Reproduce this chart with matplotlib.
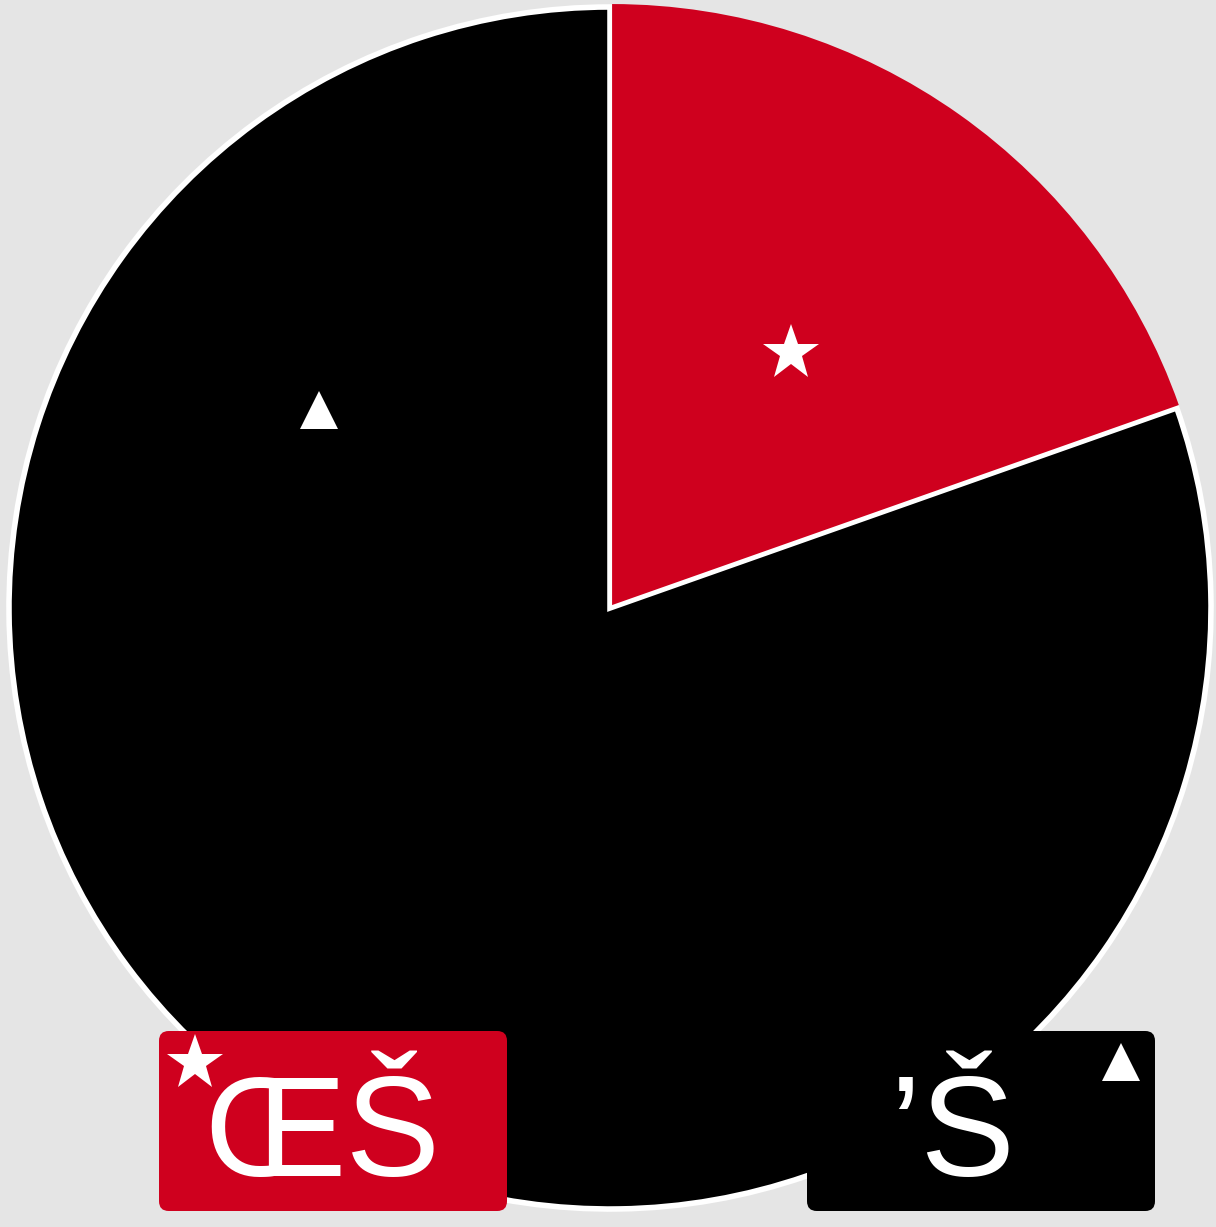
import numpy as np
import matplotlib
matplotlib.use('Agg')
import matplotlib.pyplot as plt
from matplotlib.patches import FancyBboxPatch

labels = ['ŒŠ', '’Š']
values = [19.6, 80.4]
colors = ['#CF001E', '#000000']
markers = ['*', '^']

W, H = 1216, 1227
fig = plt.figure(figsize=(W / 100, H / 100), dpi=100)
fig.patch.set_facecolor('#E5E5E5')

ax = fig.add_axes([0, 0, 1, 1])
ax.set_facecolor('#E5E5E5')
cx, cy, r = 610, 608, 601

wedges, _ = ax.pie(values, colors=colors, startangle=90, counterclock=False,
                   explode=[0.006, 0], radius=1,
                   wedgeprops=dict(edgecolor='white', linewidth=4))
wedges[0].set_edgecolor('none')
wedges[0].set_zorder(3)

# pie() forces equal aspect; put the limits back so 1 unit = r pixels
ax.set_aspect('auto')
ax.set_xlim(-cx / r, (W - cx) / r)
ax.set_ylim(-(H - cy) / r, cy / r)
ax.axis('off')

# markers inside the slices
w = wedges[0]
mid = np.deg2rad((w.theta1 + w.theta2) / 2)
ax.plot(0.52 * np.cos(mid), 0.52 * np.sin(mid), marker='*', color='white',
        markersize=42, markeredgewidth=0, zorder=5)
t = np.deg2rad(145.8)
ax.plot(0.585 * np.cos(t), 0.585 * np.sin(t), marker='^', color='white',
        markersize=27, markeredgewidth=0, zorder=5)

# label boxes at the bottom
def fx(px):
    return px / W

def fy(py):
    return 1 - py / H

boxes = [(159, 507), (807, 1155)]
text_x = [322, 952]
mark_pos = [(195, 1063, 42), (1121, 1062, 27)]
for i, lab in enumerate(labels):
    x0, x1 = boxes[i]
    box = FancyBboxPatch((fx(x0), fy(1211)), fx(x1 - x0), (1211 - 1031) / H,
                         boxstyle='round,pad=0,rounding_size=0.008',
                         transform=fig.transFigure, facecolor=colors[i],
                         edgecolor='none', zorder=10)
    fig.patches.append(box)
    fig.text(fx(text_x[i]), fy(1176), lab, ha='center', va='baseline',
             fontsize=102, color='white', family='Liberation Sans', zorder=11)
    mx, my, ms = mark_pos[i]
    fig.lines.append(plt.Line2D([fx(mx)], [fy(my)], transform=fig.transFigure,
                                marker=markers[i], color='white', markersize=ms,
                                markeredgewidth=0, linestyle='none', zorder=12))

fig.savefig('out.png', dpi=100, facecolor=fig.get_facecolor())
